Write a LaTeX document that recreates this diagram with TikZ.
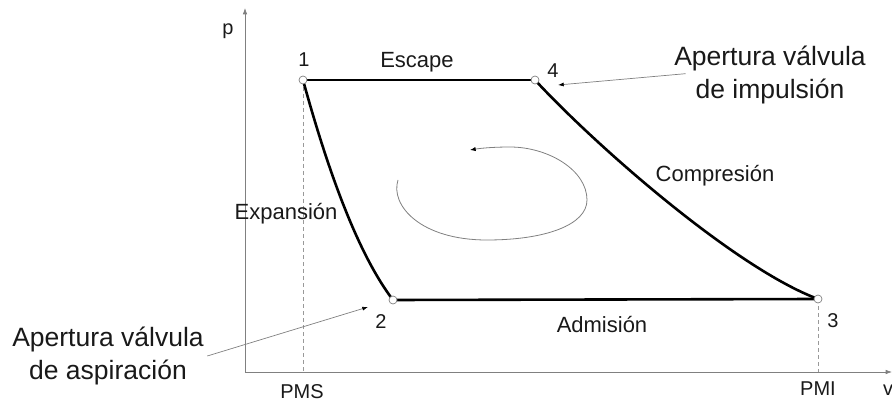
\documentclass[tikz,border=0pt]{standalone}
\usepackage{fontspec}
\setmainfont{Liberation Sans}
\usepackage{tikz}
\usetikzlibrary{arrows.meta}

\begin{document}
\begin{tikzpicture}[x=1pt,y=-1pt]

  \tikzset{punto/.style = {shape=circle,draw=gray,fill=white,inner sep=0pt,minimum size=8pt,line width=0.7pt}}
  \tikzset{curva/.style = {line width=2.6pt,line join=round}}
  \tikzset{eje/.style = {-{Latex[length=2.2mm,width=1.6mm]},gray,line width=0.8pt}}
  \tikzset{guia/.style = {gray!80,line width=0.7pt,dash pattern=on 4pt off 3pt}}
  \tikzset{etiq/.style = {anchor=base,inner sep=0pt,text=black!90,font=\fontsize{20}{24}\selectfont}}
  \tikzset{tramo/.style = {etiq,font=\fontsize{22}{26}\selectfont}}
  \tikzset{nota/.style = {align=center,text=black!90,font=\fontsize{26.5}{33}\selectfont}}
  \tikzset{flecha/.style = {-{Latex[black,length=2mm,width=1.4mm]},gray,line width=0.7pt}}

  \useasboundingbox (0,0) rectangle (892,401);

  % points
  \coordinate (o) at (245,372);
  \coordinate (ptop) at (245,8);
  \coordinate (vend) at (892,372);
  \coordinate (c1) at (303,80);
  \coordinate (c2) at (393,300);
  \coordinate (c3) at (818,299);
  \coordinate (c4) at (535,80);
  \coordinate (pms) at (303,372);
  \coordinate (pmi) at (818,372);
  \coordinate (a2) at (368,307);
  \coordinate (a4) at (558,85);

  % axes
  \draw[eje] (o) -- (ptop);
  \draw[eje] (o) -- (vend);
  \draw[guia] (c1) -- (pms);
  \draw[guia] (c3) -- (pmi);

  % cycle
  \draw[curva] (c1) -- (c4);
  \draw[curva] (c4) .. controls (595,145) and (735,268) .. (c3);
  \draw[curva] (c3) -- (c2);
  \draw[curva] (c2) .. controls (355,250) and (325,160) .. (c1);

  % turning sense
  \draw[gray,line width=0.8pt,-{Latex[black,length=2mm,width=1.5mm]}]
    (398,180) .. controls (390,205) and (420,240) .. (487,240)
    .. controls (545,240) and (587,225) .. (587,200)
    .. controls (587,170) and (548,147) .. (510,147)
    .. controls (495,147) and (482,148) .. (470,150);

  % labels
  \node[etiq] (lp) at (228,35) {p};
  \node[etiq] (lv) at (888,395) {v};
  \node[etiq] (l1) at (304,67) {1};
  \node[etiq] (l2) at (381,328) {2};
  \node[etiq] (l3) at (833,327) {3};
  \node[etiq] (l4) at (553,78) {4};
  \node[tramo] (lesc) at (417,68) {Escape};
  \node[tramo] (lcomp) at (715,182) {Compresión};
  \node[tramo] (lexp) at (286,219) {Expansión};
  \node[tramo] (ladm) at (602,332) {Admisión};
  \node[etiq] (lpms) at (302,398) {PMS};
  \node[etiq] (lpmi) at (818,395) {PMI};
  \node[nota] (nimp) at (770,75) {Apertura válvula\\de impulsión};
  \node[nota] (nasp) at (108,356) {Apertura válvula\\de aspiración};
  \draw[flecha,shorten <=-15pt] (nimp.west) -- (a4);
  \draw[flecha] (nasp.east) -- (a2);

  % markers
  \foreach \c in {c1,c2,c3,c4} \node[punto] (m\c) at (\c) {};

\end{tikzpicture}
\end{document}
